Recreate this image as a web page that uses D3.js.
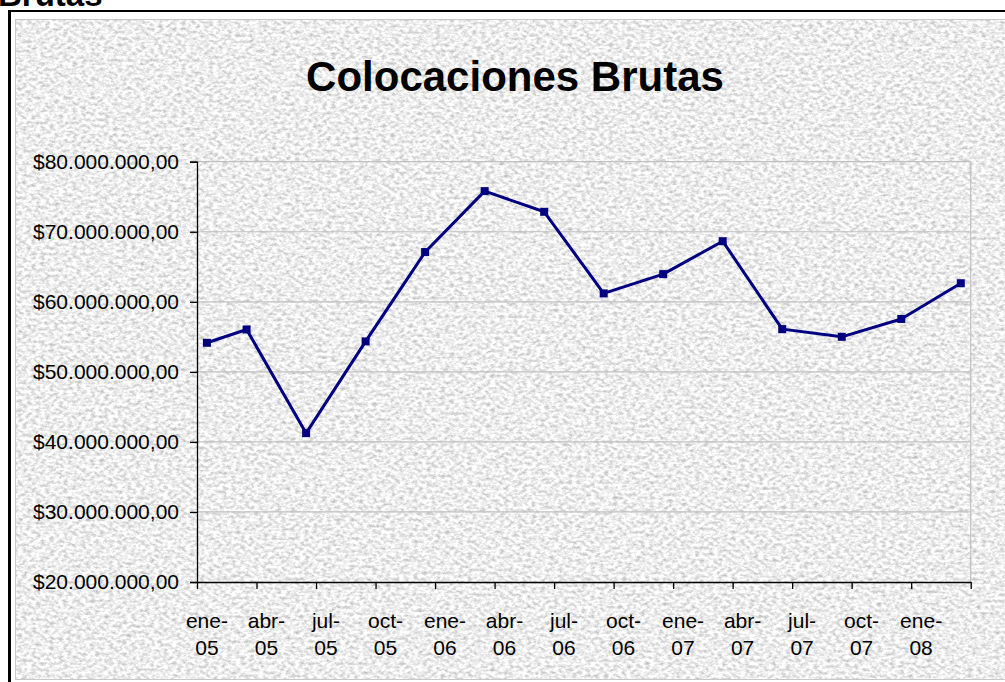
<!DOCTYPE html>
<html>
<head>
<meta charset="utf-8">
<script src="https://cdn.jsdelivr.net/npm/d3@7"></script>
<style>
  body { margin: 0; background: #fff; }
  svg { display: block; font-family: "Liberation Sans", Arial, sans-serif; }
</style>
</head>
<body>
<svg id="chart"></svg>
<script>
// data (values in pesos)
const dates = ["2005-01", "2005-03", "2005-06", "2005-09", "2005-12", "2006-03", "2006-06",
               "2006-09", "2006-12", "2007-03", "2007-06", "2007-09", "2007-12", "2008-03"];
const values = [54.15e6, 56.05e6, 41.25e6, 54.35e6, 67.1e6, 75.8e6, 72.85e6,
                61.2e6, 63.95e6, 68.65e6, 56.1e6, 55.0e6, 57.55e6, 62.65e6];
const tickLabels = ["ene-05", "abr-05", "jul-05", "oct-05", "ene-06", "abr-06", "jul-06",
                    "oct-06", "ene-07", "abr-07", "jul-07", "oct-07", "ene-08"];
const yTicks = [20e6, 30e6, 40e6, 50e6, 60e6, 70e6, 80e6];
const title = "Colocaciones Brutas";

const width = 1005, height = 682;
const plot = { left: 197, right: 970.7, top: 161.7, bottom: 582 };

const svg = d3.select("#chart").attr("width", width).attr("height", height);

// paper-like texture
const defs = svg.append("defs");
const filt = defs.append("filter").attr("id", "paper")
    .attr("x", 0).attr("y", 0).attr("width", "100%").attr("height", "100%")
    .attr("color-interpolation-filters", "sRGB");
filt.append("feTurbulence").attr("type", "fractalNoise")
    .attr("baseFrequency", "0.22 0.32").attr("numOctaves", 3).attr("seed", 7);
filt.append("feColorMatrix").attr("type", "matrix").attr("values",
    "0.5 0 0 0 0.68  0.5 0 0 0 0.68  0.5 0 0 0 0.68  0 0 0 0 1");

// clipped heading above the frame
svg.append("text").attr("x", -2).attr("y", 6)
    .attr("font-size", 33).attr("font-weight", "bold").text("Brutas");

// outer frame
svg.append("line").attr("x1", 9.5).attr("x2", 9.5).attr("y1", 10).attr("y2", height)
    .attr("stroke", "#000").attr("stroke-width", 3);
svg.append("line").attr("x1", 8).attr("x2", width).attr("y1", 11).attr("y2", 11)
    .attr("stroke", "#000").attr("stroke-width", 2);

// chart area
svg.append("rect").attr("x", 15).attr("y", 19).attr("width", width).attr("height", 661)
    .attr("filter", "url(#paper)");
svg.append("rect").attr("x", 15.5).attr("y", 19.5).attr("width", width).attr("height", 660)
    .attr("fill", "none").attr("stroke", "#c8c8c8");

const monthIndex = s => {
    const [yy, mm] = s.split("-").map(Number);
    return (yy - 2005) * 12 + (mm - 1);
};

const x = d3.scaleLinear().domain([0, 39]).range([plot.left, plot.right]);
const y = d3.scaleLinear().domain([20e6, 80e6]).range([plot.bottom, plot.top]);

// gridlines
svg.append("g")
    .selectAll("line")
    .data(yTicks.slice(1))
    .join("line")
    .attr("x1", plot.left).attr("x2", plot.right)
    .attr("y1", d => y(d)).attr("y2", d => y(d))
    .attr("stroke", "#c0c0c0").attr("stroke-width", 1.2);
svg.append("line")
    .attr("x1", plot.right).attr("x2", plot.right)
    .attr("y1", plot.top).attr("y2", plot.bottom)
    .attr("stroke", "#c0c0c0").attr("stroke-width", 1.2);

const locale = d3.formatLocale({ decimal: ",", thousands: ".", grouping: [3], currency: ["$", ""] });
const money = locale.format("$,.2f");

const yAxis = svg.append("g")
    .attr("transform", `translate(${plot.left},0)`)
    .call(d3.axisLeft(y).tickValues(yTicks).tickSize(7).tickPadding(11).tickFormat(money));
yAxis.selectAll("text").attr("font-size", 21).attr("fill", "#000")
    .attr("font-family", "Liberation Sans, Arial, sans-serif");
yAxis.selectAll("line, path").attr("stroke", "#000").attr("stroke-width", 1.3);

const xAxis = svg.append("g")
    .attr("transform", `translate(0,${plot.bottom})`)
    .call(d3.axisBottom(x).tickValues(d3.range(0, 40, 3)).tickSize(7).tickSizeOuter(0).tickFormat(""));
xAxis.selectAll("line, path").attr("stroke", "#000").attr("stroke-width", 1.3);

const xl = svg.append("g")
    .selectAll("text")
    .data(tickLabels)
    .join("text")
    .attr("text-anchor", "middle")
    .attr("font-size", 21)
    .attr("transform", (d, i) => `translate(${x(i * 3 + 0.5)},0)`);
xl.append("tspan").attr("x", 0).attr("y", 628).text(d => d.split("-")[0] + "-");
xl.append("tspan").attr("x", 0).attr("y", 655).text(d => d.split("-")[1]);

// series
const pts = dates.map((d, i) => [monthIndex(d) + 0.5, values[i]]);
svg.append("path")
    .datum(pts)
    .attr("fill", "none")
    .attr("stroke", "#000080")
    .attr("stroke-width", 3)
    .attr("stroke-linejoin", "round")
    .attr("d", d3.line().x(d => x(d[0])).y(d => y(d[1])));
svg.append("g")
    .selectAll("rect")
    .data(pts)
    .join("rect")
    .attr("x", d => x(d[0]) - 4).attr("y", d => y(d[1]) - 4)
    .attr("width", 8).attr("height", 8)
    .attr("fill", "#000080");

// title
svg.append("text")
    .attr("x", 515).attr("y", 91)
    .attr("text-anchor", "middle")
    .attr("font-size", 42).attr("font-weight", "bold")
    .text(title);
</script>
</body>
</html>
